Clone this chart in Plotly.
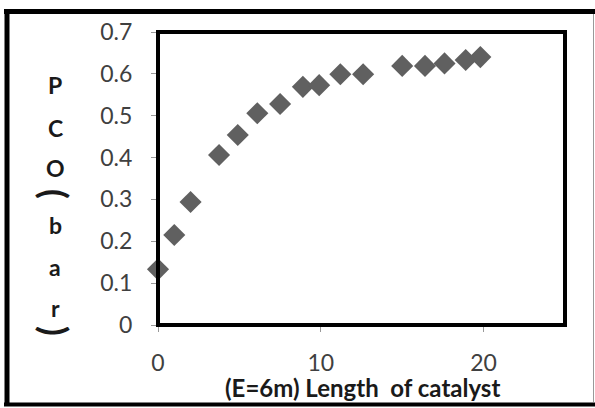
import plotly.graph_objects as go

# Data
length_m = [0, 1, 2, 3.75, 4.9, 6.1, 7.5, 8.9, 9.9, 11.2, 12.6, 15.0, 16.4, 17.6, 18.9, 19.8]
pco_bar = [0.133, 0.215, 0.294, 0.406, 0.454, 0.506, 0.528, 0.569, 0.573, 0.599, 0.599,
           0.619, 0.619, 0.625, 0.633, 0.640]
x_ticks = [0, 10, 20]
y_ticks = [0, 0.1, 0.2, 0.3, 0.4, 0.5, 0.6, 0.7]
y_tick_labels = ["0", "0.1", "0.2", "0.3", "0.4", "0.5", "0.6", "0.7"]
x_title = "(E=6m) Length  of catalyst"
y_title_chars = ["P", "C", "O", "(", "b", "a", "r", ")"]

W, H = 595, 408
L, R, T, B = 158, 565, 32, 325  # plot area in pixels

def px(xp):
    return (xp - L) / (R - L)

def py(yp):
    return (B - yp) / (B - T)

fig = go.Figure()
fig.add_trace(go.Scatter(
    x=length_m, y=pco_bar, mode="markers",
    marker=dict(symbol="diamond", size=17, color="#606060", line=dict(width=0)),
    cliponaxis=False, showlegend=False,
))

tickfont = dict(family="Lato", size=23, color="#404040")
fig.update_xaxes(range=[0, 25], tickvals=x_ticks, ticks="outside", ticklen=6,
                 tickcolor="#999999", tickwidth=1, showgrid=False, zeroline=False,
                 showline=False, tickfont=tickfont, ticklabelstandoff=11)
fig.update_yaxes(range=[0, 0.7], tickvals=y_ticks, ticktext=y_tick_labels, ticks="outside",
                 ticklen=6, tickcolor="#999999", tickwidth=1, showgrid=False, zeroline=False,
                 showline=False, tickfont=tickfont, ticklabelstandoff=14)

shapes = [
    # inner plot border
    dict(type="rect", xref="paper", yref="paper", x0=0, x1=1, y0=0, y1=1,
         line=dict(color="black", width=4), layer="above"),
    # outer frame
    dict(type="line", xref="paper", yref="paper", x0=px(4), x1=px(595), y0=py(11.5), y1=py(11.5),
         line=dict(color="black", width=5)),
    dict(type="line", xref="paper", yref="paper", x0=px(7), x1=px(7), y0=py(9), y1=py(406),
         line=dict(color="black", width=5)),
    dict(type="line", xref="paper", yref="paper", x0=px(4), x1=px(595), y0=py(404.5), y1=py(404.5),
         line=dict(color="black", width=4)),
    dict(type="line", xref="paper", yref="paper", x0=px(593.5), x1=px(593.5), y0=py(14), y1=py(402),
         line=dict(color="#999999", width=1)),
]

annotations = [
    dict(text=x_title, xref="paper", yref="paper", x=px(362), y=py(387),
         xanchor="center", yanchor="middle", showarrow=False,
         font=dict(family="Lato", size=24, color="#1a1a1a", weight="bold")),
]
char_y = [85, 128, 168, 194, 225, 267, 308, 331]
for ch, cy in zip(y_title_chars, char_y):
    rot = ch in "()"
    annotations.append(dict(
        text=ch, xref="paper", yref="paper", x=px(55), y=py(cy),
        xanchor="center", yanchor="middle", showarrow=False,
        textangle=90 if rot else 0,
        font=dict(family="Lato", size=36 if rot else 23, color="#1a1a1a", weight="bold"),
    ))

fig.update_layout(
    width=W, height=H,
    margin=dict(l=L, r=W - R, t=T, b=H - B),
    paper_bgcolor="white", plot_bgcolor="white",
    shapes=shapes, annotations=annotations,
)

fig.write_html("out.html", config={"displayModeBar": False},
               post_script="document.body.style.margin='0';")
